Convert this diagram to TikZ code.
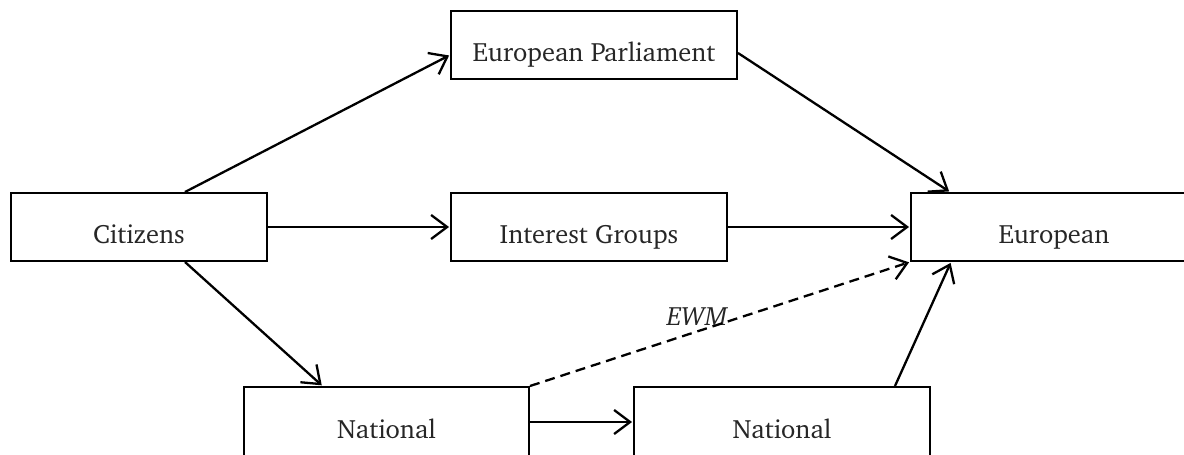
\documentclass[tikz,border=0pt]{standalone}
\usepackage[T1]{fontenc}
\renewcommand{\rmdefault}{bch}
\usetikzlibrary{arrows.meta}
\tikzset{
  box/.style={draw, line width=2pt, rectangle, inner sep=0pt,
    minimum height=68pt, text height=40pt, text depth=8pt,
    font=\fontsize{26.5}{32}\selectfont, text=black!85},
  arr/.style={line width=2.3pt, -{Straight Barb[length=16pt,width=24pt,line width=2.3pt]}, shorten >=1pt},
  dsh/.style={arr, dash pattern=on 10pt off 6pt},
  lbl/.style={font=\fontsize{26.5}{32}\selectfont\itshape, text=black!85, inner sep=0pt}
}
\begin{document}
\begin{tikzpicture}[x=1pt,y=-1pt]
\useasboundingbox (0,0) rectangle (1184,455);
\clip (0,0) rectangle (1184,455);
\node[box, minimum width=286pt] (ep) at (594,45) {European Parliament};
\node[box, minimum width=256pt] (cit) at (139,227) {Citizens};
\node[box, minimum width=276pt] (ig) at (589,227) {Interest Groups};
\node[box, minimum width=286pt] (eu) at (1054,227) {European};
\node[box, minimum width=285pt, minimum height=70pt] (n1) at (386.5,422) {National};
\node[box, minimum width=296pt, minimum height=70pt] (n2) at (782,422) {National};
\node[lbl] (ewm) at (697,316) {EWM};
\draw[arr] ([xshift=46pt]cit.north) -- ([yshift=-10pt]ep.west);
\draw[arr] (cit.east) -- (ig.west);
\draw[arr] ([xshift=46pt]cit.south) -- ([xshift=-64pt]n1.north);
\draw[arr] ([yshift=-8pt]ep.east) -- ([xshift=-104pt]eu.north);
\draw[arr] (ig.east) -- (eu.west);
\draw[dsh] (n1.north east) -- (eu.south west);
\draw[arr] (n1.east) -- (n2.west);
\draw[arr] ([xshift=113pt]n2.north) -- ([xshift=-103pt]eu.south);
\end{tikzpicture}
\end{document}
